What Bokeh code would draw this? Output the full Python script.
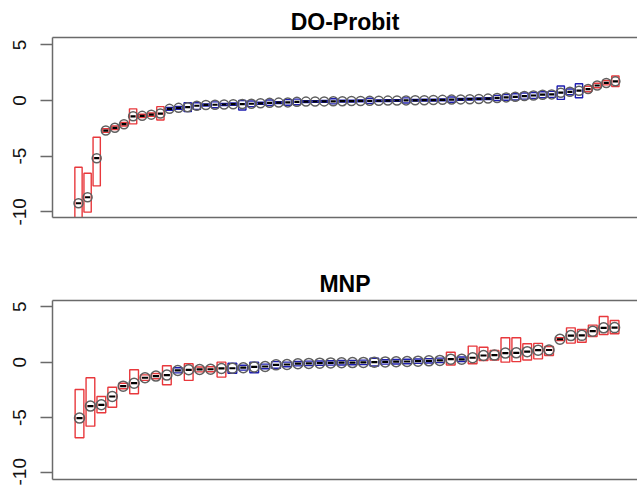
import numpy as np
from bokeh.plotting import figure
from bokeh.layouts import column
from bokeh.models import ColumnDataSource, Range1d, FixedTicker, LinearAxis
from bokeh.embed import file_html
from bokeh.resources import INLINE

# ---------------- data ----------------
titles = ["DO-Probit", "MNP"]
y_ticks = [-10, -5, 0, 5]
y_tick_labels = ["-10", "-5", "0", "5"]

# DO-Probit: sorted estimates with interval (lo, hi); flag 1 = red box, 0 = blue box
do_est = [-9.23, -8.69, -5.18, -2.70, -2.45, -2.13, -1.42, -1.38, -1.27, -1.17,
          -0.75, -0.66, -0.60, -0.47, -0.40, -0.38, -0.36, -0.33, -0.32, -0.29,
          -0.25, -0.21, -0.19, -0.17, -0.12, -0.10, -0.09, -0.08, -0.07, -0.06,
          -0.05, -0.04, -0.03, -0.02, -0.01, 0.00, 0.01, 0.02, 0.03, 0.04,
          0.06, 0.08, 0.10, 0.12, 0.14, 0.17, 0.23, 0.28, 0.33, 0.40,
          0.45, 0.52, 0.55, 0.70, 0.78, 0.88, 1.03, 1.35, 1.58, 1.72]
do_lo = [-11.50, -10.03, -7.67, -2.86, -2.61, -2.29, -2.10, -1.53, -1.42, -1.75,
         -0.87, -0.78, -1.00, -0.80, -0.50, -0.65, -0.46, -0.43, -0.85, -0.55,
         -0.35, -0.45, -0.27, -0.42, -0.38, -0.18, -0.17, -0.16, -0.30, -0.14,
         -0.13, -0.12, -0.26, -0.10, -0.09, -0.08, -0.22, -0.06, -0.05, -0.04,
         -0.02, -0.15, 0.02, 0.04, 0.06, 0.09, 0.00, 0.02, 0.05, 0.12,
         0.18, 0.25, 0.28, 0.10, 0.52, 0.25, 0.78, 1.15, 1.40, 1.25]
do_hi = [-6.00, -6.53, -3.30, -2.54, -2.29, -1.97, -0.75, -1.23, -1.12, -0.55,
         -0.63, -0.54, -0.20, -0.20, -0.30, -0.12, -0.26, -0.23, 0.00, -0.05,
         -0.15, 0.05, -0.11, 0.08, 0.12, -0.02, -0.01, 0.00, 0.16, 0.02,
         0.03, 0.04, 0.20, 0.06, 0.07, 0.08, 0.24, 0.10, 0.11, 0.12,
         0.14, 0.31, 0.18, 0.20, 0.22, 0.25, 0.46, 0.54, 0.61, 0.68,
         0.72, 0.79, 0.82, 1.30, 1.04, 1.50, 1.28, 1.55, 1.80, 2.20]
do_flag = [1] * 10 + [0] * 46 + [1] * 4

# MNP
mnp_est = [-5.05, -3.97, -3.85, -3.10, -2.17, -1.90, -1.41, -1.26, -1.17, -0.75,
           -0.69, -0.66, -0.64, -0.57, -0.55, -0.50, -0.43, -0.39, -0.24, -0.21,
           -0.14, -0.11, -0.09, -0.07, -0.05, -0.04, -0.02, 0.00, 0.02, 0.04,
           0.06, 0.09, 0.12, 0.16, 0.27, 0.26, 0.40, 0.60, 0.64, 0.82,
           0.84, 0.95, 1.08, 1.10, 2.07, 2.40, 2.42, 2.80, 3.10, 3.12]
mnp_lo = [-6.83, -5.78, -4.57, -4.07, -2.40, -2.85, -1.65, -1.50, -2.04, -0.97,
          -1.65, -0.88, -0.86, -1.35, -1.00, -0.72, -0.95, -0.60, -0.55, -0.42,
          -0.34, -0.31, -0.29, -0.27, -0.25, -0.24, -0.22, -0.35, -0.18, -0.16,
          -0.14, -0.11, -0.08, -0.04, -0.25, 0.06, -0.15, 0.15, 0.20, 0.00,
          0.05, 0.20, 0.30, 0.60, 1.95, 1.72, 1.80, 2.32, 2.50, 2.56]
mnp_hi = [-2.47, -1.41, -3.10, -2.26, -1.90, -0.69, -1.15, -1.02, -0.33, -0.50,
          -0.15, -0.44, -0.42, 0.00, -0.10, -0.28, 0.00, -0.18, 0.05, 0.00,
          0.06, 0.09, 0.11, 0.13, 0.15, 0.16, 0.18, 0.35, 0.22, 0.24,
          0.26, 0.29, 0.32, 0.36, 0.90, 0.46, 1.45, 1.35, 1.05, 2.20,
          2.20, 1.66, 1.70, 1.42, 2.20, 3.10, 2.95, 3.35, 4.13, 3.77]
mnp_flag = [1] * 9 + [0] + [1] * 4 + [0] * 20 + [1] + [0] + [1] * 14

# ---------------- styling ----------------
RED = "#e8383c"
BLUE = "#1e1eb0"
FRAME = "#6a6a6a"
FONT = "Liberation Sans"
W = 637
LEFT = 52


def border_axis():
    return dict(ticker=FixedTicker(ticks=[]), major_label_text_font_size="0px",
                major_tick_line_color=None, minor_tick_line_color=None,
                major_tick_out=0, major_tick_in=0, minor_tick_out=0,
                major_label_standoff=0, axis_line_color=FRAME, axis_line_width=1.5)


def panel(title, est, lo, hi, flag, x_start, x_end, y_start, y_end,
          height, b_top, b_bottom, csize, t_standoff):
    n = len(est)
    idx = np.arange(1, n + 1, dtype=float)
    cols = [RED if f else BLUE for f in flag]
    src = ColumnDataSource(dict(x=idx, est=est, lo=lo, hi=hi,
                                left=idx - 0.4, right=idx + 0.4,
                                d0=idx - 0.28, d1=idx + 0.28, col=cols))
    p = figure(width=W, height=height, output_backend="svg", toolbar_location=None,
               x_range=Range1d(x_start, x_end), y_range=Range1d(y_start, y_end),
               min_border_left=LEFT, min_border_right=0,
               min_border_top=b_top, min_border_bottom=b_bottom,
               title=title)
    p.title.align = "center"
    p.title.text_font = FONT
    p.title.text_font_size = "23px"
    p.title.text_font_style = "bold"
    p.title.text_color = "black"
    p.title.standoff = t_standoff
    p.outline_line_color = None
    p.grid.visible = False
    p.background_fill_color = "white"
    p.border_fill_color = "white"

    p.quad(left="left", right="right", bottom="lo", top="hi", source=src,
           fill_color=None, line_color="col", line_width=1.4)
    p.scatter("x", "est", source=src, size=csize, marker="circle",
              fill_color=None, line_color="#5f5f5f", line_width=1.5)
    p.segment(x0="d0", x1="d1", y0="est", y1="est", source=src,
              line_color="black", line_width=2.2)

    xa = p.xaxis[0]
    for k, v in border_axis().items():
        setattr(xa, k, v)
    p.add_layout(LinearAxis(**border_axis()), "above")

    ya = p.yaxis[0]
    ya.ticker = FixedTicker(ticks=y_ticks)
    ya.major_label_overrides = {t: s for t, s in zip(y_ticks, y_tick_labels)}
    ya.minor_tick_line_color = None
    ya.major_tick_out = 12
    ya.major_tick_in = 0
    ya.major_tick_line_color = FRAME
    ya.major_tick_line_width = 1.3
    ya.axis_line_color = FRAME
    ya.axis_line_width = 1.5
    ya.major_label_orientation = "vertical"
    ya.major_label_text_font = FONT
    ya.major_label_text_font_size = "19px"
    ya.major_label_text_color = "#111111"
    ya.major_label_standoff = 14
    return p


p1 = panel(titles[0], do_est, do_lo, do_hi, do_flag,
           -1.857, 62.43, -10.51, 5.66,
           250, 37, 33, 9, 5)
p2 = panel(titles[1], mnp_est, mnp_lo, mnp_hi, mnp_flag,
           -1.473, 52.10, -10.60, 5.57,
           235, 50, 6, 10, 7)

layout = column(p1, p2, spacing=0)
open("out.html", "w").write(file_html(layout, INLINE))
